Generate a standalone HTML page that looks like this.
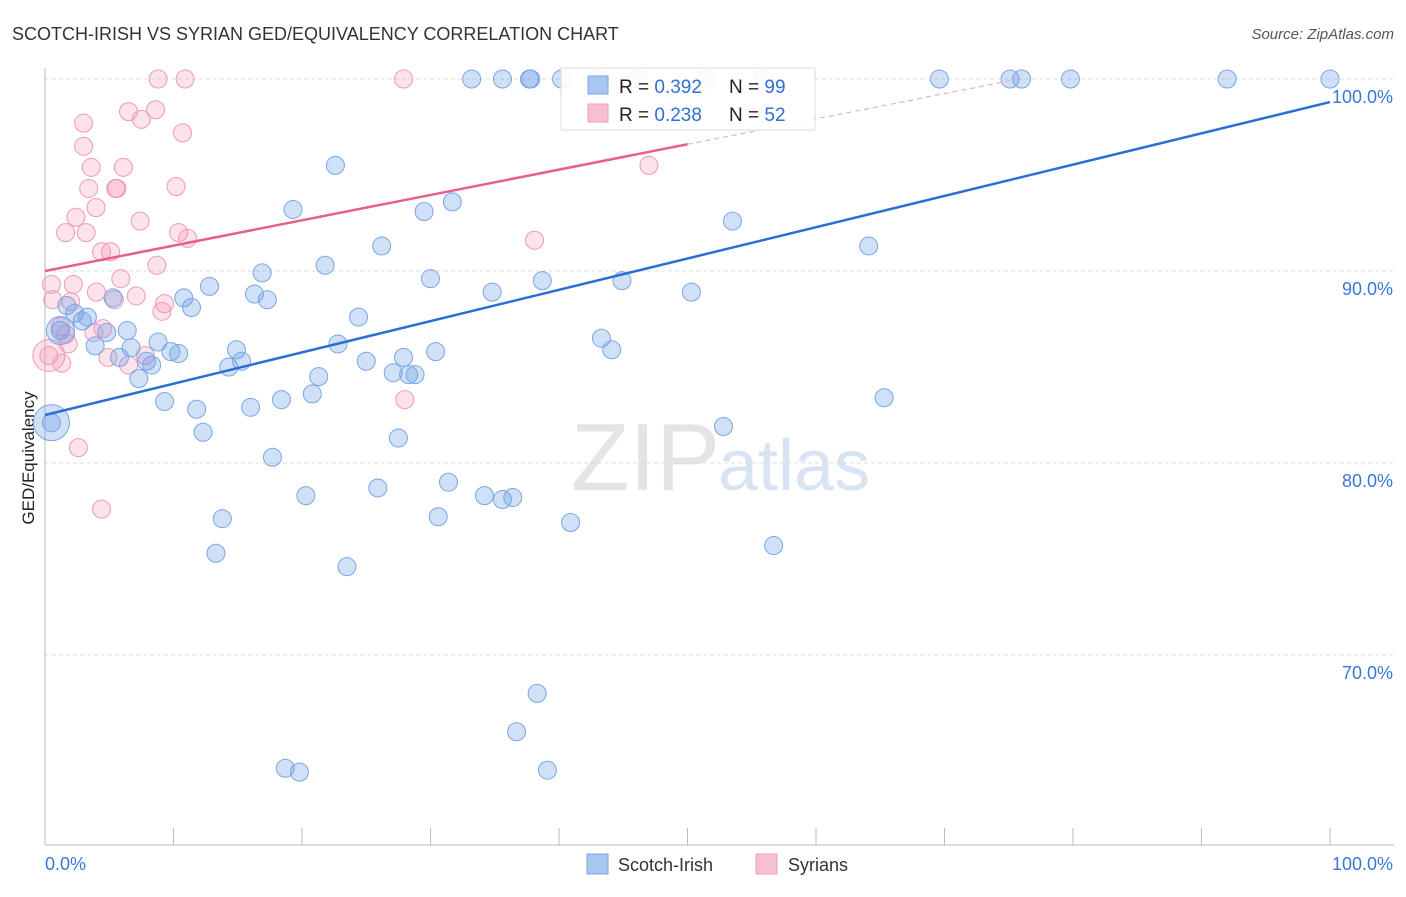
<!DOCTYPE html>
<html><head><meta charset="utf-8"><style>
body{margin:0;background:#fff;font-family:"Liberation Sans",sans-serif;}
svg text{font-family:"Liberation Sans",sans-serif;}
</style></head><body>
<svg id="chart" width="1406" height="892" viewBox="0 0 1406 892" xmlns="http://www.w3.org/2000/svg">
<text x="12" y="40" font-size="18" fill="#333">SCOTCH-IRISH VS SYRIAN GED/EQUIVALENCY CORRELATION CHART</text>
<text x="1394" y="39" font-size="15" fill="#555" font-style="italic" text-anchor="end">Source: ZipAtlas.com</text>
<text x="720" y="490" font-size="96" fill="#e4e4e4" font-family="Liberation Serif" text-anchor="end">ZIP</text>
<text x="718" y="490" font-size="72" fill="#d8e4f4">atlas</text>
<g id="grid"></g>
<g id="axes"></g>
<text transform="translate(34,458) rotate(-90)" font-size="17" fill="#222" text-anchor="middle">GED/Equivalency</text>
<g id="pts"></g>
<g id="lines"></g>
<g>
<rect x="561" y="68" width="254" height="62" fill="#fff" fill-opacity="0.9" stroke="#ddd"/>
<rect x="588" y="76" width="20" height="18" fill="#a9c6f0" stroke="#7aa6e6"/>
<rect x="588" y="104" width="20" height="18" fill="#f7c0d0" stroke="#f09ab3"/>
<text x="619" y="93" font-size="19" fill="#222">R = <tspan fill="#2f6fd6">0.392</tspan></text>
<text x="729" y="93" font-size="19" fill="#222">N = <tspan fill="#2f6fd6">99</tspan></text>
<text x="619" y="121" font-size="19" fill="#222">R = <tspan fill="#2f6fd6">0.238</tspan></text>
<text x="729" y="121" font-size="19" fill="#222">N = <tspan fill="#2f6fd6">52</tspan></text>
</g>
<g>
<rect x="587" y="854" width="21" height="20" fill="#a9c6f0" stroke="#7aa6e6"/>
<text x="618" y="871" font-size="18" fill="#333">Scotch-Irish</text>
<rect x="756" y="854" width="21" height="20" fill="#f7c0d0" stroke="#f09ab3"/>
<text x="788" y="871" font-size="18" fill="#333">Syrians</text>
</g>
</svg>
<script>
const yTicks=[70,80,90,100];
const yTickLabels=["70.0%","80.0%","90.0%","100.0%"];
const blueX=[33.2,35.6,37.7,37.8,40.2,46.1,51.4,55.9,69.6,75.1,76,79.8,92,100,43,22.6,19.3,29.5,31.7,53.5,64.1,26.2,21.8,16.9,30,38.7,44.9,12.8,16.3,17.3,10.8,11.4,34.8,50.3,5.3,1.7,2.3,3.3,2.9,24.4,6.4,4.8,1.2,43.3,22.8,3.9,6.7,8.8,44.1,30.4,14.9,9.8,10.4,5.8,7.9,8.3,14.3,15.3,25,27.9,27.1,28.3,28.8,21.3,7.3,20.8,18.4,9.3,11.8,16,65.3,0.5,12.3,27.5,52.8,17.7,31.4,25.9,20.3,34.2,35.6,36.4,13.8,30.6,40.9,56.7,13.3,23.5,38.3,36.7,18.7,19.8,39.1];
const blueY=[100,100,100,100,100,100,100,100,100,100,100,100,100,100,100,95.5,93.2,93.1,93.6,92.6,91.3,91.3,90.3,89.9,89.6,89.5,89.5,89.2,88.8,88.5,88.6,88.1,88.9,88.9,88.6,88.2,87.8,87.6,87.4,87.6,86.9,86.8,86.9,86.5,86.2,86.1,86,86.3,85.9,85.8,85.9,85.8,85.7,85.5,85.3,85.1,85,85.3,85.3,85.5,84.7,84.6,84.6,84.5,84.4,83.6,83.3,83.2,82.8,82.9,83.4,82.1,81.6,81.3,81.9,80.3,79,78.7,78.3,78.3,78.1,78.2,77.1,77.2,76.9,75.7,75.3,74.6,68,66,64.1,63.9,64];
const pinkX=[8.8,10.9,27.9,6.5,8.6,7.5,3,10.7,3,3.6,6.1,47,3.4,5.5,5.6,10.2,3.97,2.4,7.4,1.6,3.2,10.4,11.1,38.1,4.4,5.1,8.7,5.9,0.5,2.2,4,7.1,0.6,2,5.4,9.3,9.1,1.2,3.8,4.5,1.6,1.8,0.3,4.9,7.8,6.5,1.3,28,2.6,4.4];
const pinkY=[100,100,100,98.3,98.4,97.9,97.7,97.2,96.5,95.4,95.4,95.5,94.3,94.3,94.3,94.4,93.3,92.8,92.6,92,92,92,91.7,91.6,91,91,90.3,89.6,89.3,89.3,88.9,88.7,88.5,88.4,88.5,88.3,87.9,87.1,86.8,87,86.7,86.2,85.6,85.5,85.6,85.1,85.2,83.3,80.8,77.6];
const blueBig=[[0.5,82.1,18],[1.2,86.9,14]];
const pinkBig=[[0.3,85.6,16]];
const blueFit=[82.5,98.8];
const pinkFit=[90.0,96.6];
const pinkSolidEnd=50;

const X=v=>45+v*12.85, Y=v=>79+(100-v)*19.2;
const NS="http://www.w3.org/2000/svg";
function mk(tag,attrs,parent){const e=document.createElementNS(NS,tag);for(const k in attrs)e.setAttribute(k,attrs[k]);parent.appendChild(e);return e;}
const grid=document.getElementById('grid'),axes=document.getElementById('axes'),pts=document.getElementById('pts'),lines=document.getElementById('lines');
yTicks.forEach((t,i)=>{
 const g=mk('line',{x1:45,x2:1394,y1:Y(t),y2:Y(t),stroke:'#ddd','stroke-dasharray':'4,3'},grid);
 
 
 const l=mk('text',{x:1393,y:Y(t)+24,'font-size':18,fill:'#3a78d8','text-anchor':'end'},axes);
 l.textContent=yTickLabels[i];
 
 
});
const ya=mk('line',{x1:45,x2:45,y1:68,y2:845,stroke:'#bbb'},axes);


const xa=mk('line',{x1:45,x2:1394,y1:845,y2:845,stroke:'#bbb'},axes);


for(let i=0;i<=10;i++){const t=mk('line',{x1:X(i*10),x2:X(i*10),y1:828,y2:845,stroke:'#bbb'},axes);
 
 }
const xl0=mk('text',{x:45,y:870,'font-size':18,fill:'#3a78d8'},axes);xl0.textContent='0.0%';


const xl1=mk('text',{x:1393,y:870,'font-size':18,fill:'#3a78d8','text-anchor':'end'},axes);xl1.textContent='100.0%';


function dot(x,y,r,pink){const c=mk('circle',{cx:X(x),cy:Y(y),r:r,fill:pink?'rgba(244,150,180,0.28)':'rgba(110,160,230,0.32)',stroke:pink?'#f09ab3':'#7aa6e6','stroke-width':1},pts);
 
 }
pinkX.forEach((x,i)=>dot(x,pinkY[i],9,true));
pinkBig.forEach(p=>dot(p[0],p[1],p[2],true));
blueX.forEach((x,i)=>dot(x,blueY[i],9,false));
blueBig.forEach(p=>dot(p[0],p[1],p[2],false));
const bl=mk('line',{x1:X(0),y1:Y(blueFit[0]),x2:X(100),y2:Y(blueFit[1]),stroke:'#2a6fd6','stroke-width':2.5},lines);


const pe=v=>pinkFit[0]+(pinkFit[1]-pinkFit[0])*v/50;
const pl=mk('line',{x1:X(0),y1:Y(pe(0)),x2:X(pinkSolidEnd),y2:Y(pe(pinkSolidEnd)),stroke:'#e8608a','stroke-width':2.5},lines);


const endX=(100-pinkFit[0])/((pinkFit[1]-pinkFit[0])/50);
const pd=mk('line',{x1:X(pinkSolidEnd),y1:Y(pe(pinkSolidEnd)),x2:X(endX),y2:Y(100),stroke:'#f0a0b8','stroke-width':1,'stroke-dasharray':'5,4'},lines);


</script>
</body></html>
